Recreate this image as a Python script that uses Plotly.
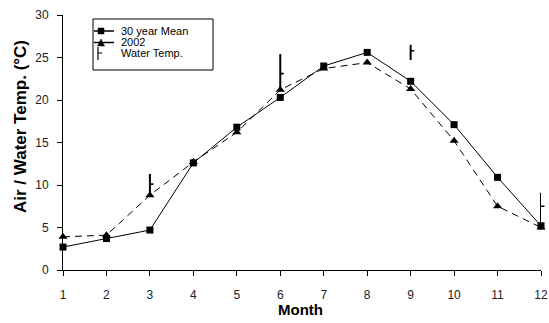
import plotly.graph_objects as go

months = [1, 2, 3, 4, 5, 6, 7, 8, 9, 10, 11, 12]
mean_30yr = [2.7, 3.7, 4.7, 12.6, 16.8, 20.3, 24.0, 25.6, 22.2, 17.1, 10.9, 5.2]
temp_2002 = [3.9, 4.1, 8.8, 12.7, 16.2, 21.2, 23.7, 24.4, 21.3, 15.2, 7.5, 5.0]

water_months = [3, 6, 9, 12]
water_mean = [10.1, 23.1, 25.8, 7.5]
water_min = [8.7, 21.2, 24.7, 4.8]
water_max = [11.3, 25.4, 26.5, 9.1]

tick_labels = [str(m) for m in months]
y_ticks = [0, 5, 10, 15, 20, 25, 30]

FONT = "Liberation Sans, Arial, sans-serif"

fig = go.Figure()

fig.add_trace(go.Scatter(
    x=months, y=mean_30yr, mode="lines+markers", name="30 year Mean",
    line=dict(color="black", width=1),
    marker=dict(symbol="square", size=7, color="black"),
    cliponaxis=False, showlegend=False))

fig.add_trace(go.Scatter(
    x=months, y=temp_2002, mode="lines+markers", name="2002",
    line=dict(color="black", width=1, dash="7px,5px"),
    marker=dict(symbol="triangle-up", size=8, color="black"),
    cliponaxis=False, showlegend=False))

# water temperature: vertical range bar
fig.add_trace(go.Scatter(
    x=water_months, y=water_mean, mode="markers", name="Water Temp.",
    marker=dict(size=2, color="rgba(0,0,0,0)", line=dict(width=0)),
    error_y=dict(type="data", symmetric=False,
                 array=[hi - m for hi, m in zip(water_max, water_mean)],
                 arrayminus=[m - lo for lo, m in zip(water_min, water_mean)],
                 width=0, thickness=2, color="black"),
    cliponaxis=False, showlegend=False))

# plot area in pixels
L, R, T, B = 63, 541, 15, 270


def px(x):
    return (x - L) / (R - L)


def py(y):
    return (B - y) / (B - T)


shapes = []
annotations = []

# water temperature: short tick to the right marking the mean (not clipped)
for m, v in zip(water_months, water_mean):
    annotations.append(dict(x=m, y=v, xref="x", yref="y", text="",
                            showarrow=True, arrowhead=0, arrowwidth=1.6,
                            arrowcolor="black", ax=5, ay=0,
                            standoff=0, startstandoff=0))

# legend box
shapes.append(dict(type="rect", xref="paper", yref="paper",
                   x0=px(93), x1=px(213), y0=py(70), y1=py(19),
                   line=dict(color="black", width=1), fillcolor="white", layer="below"))

legend_rows = [("30 year Mean", 31), ("2002", 42.5), ("Water Temp.", 53)]
for i, (label, yy) in enumerate(legend_rows):
    annotations.append(dict(text=label, xref="paper", yref="paper",
                            x=px(119), y=py(yy), xanchor="left", yanchor="middle",
                            showarrow=False, font=dict(family=FONT, size=11, color="black")))
    if i < 2:
        shapes.append(dict(type="line", xref="paper", yref="paper",
                           x0=px(94), x1=px(114), y0=py(yy), y1=py(yy),
                           line=dict(color="black", width=1.5)))
    if i == 0:
        shapes.append(dict(type="rect", xref="paper", yref="paper",
                           x0=px(98), x1=px(104), y0=py(yy + 3), y1=py(yy - 3),
                           line=dict(color="black", width=0.5), fillcolor="black"))
    elif i == 1:
        shapes.append(dict(type="path", xref="paper", yref="paper",
                           path=f"M {px(97.5)},{py(yy + 3.5)} L {px(104.5)},{py(yy + 3.5)} L {px(101)},{py(yy - 3.5)} Z",
                           line=dict(color="black", width=0.5), fillcolor="black"))
    else:
        shapes.append(dict(type="line", xref="paper", yref="paper",
                           x0=px(98), x1=px(98), y0=py(yy + 7), y1=py(yy - 6),
                           line=dict(color="black", width=1.2)))
        shapes.append(dict(type="line", xref="paper", yref="paper",
                           x0=px(98), x1=px(102), y0=py(yy), y1=py(yy),
                           line=dict(color="black", width=1)))

# axis titles
annotations.append(dict(text="<b>Month</b>", xref="paper", yref="paper",
                        x=px(300), y=py(310), xanchor="center", yanchor="middle",
                        showarrow=False, font=dict(family=FONT, size=15, color="black")))
annotations.append(dict(text="<b>Air / Water Temp. (°C)</b>", xref="paper", yref="paper",
                        x=px(20), y=py(127), xanchor="center", yanchor="middle",
                        textangle=-90, showarrow=False,
                        font=dict(family=FONT, size=17, color="black")))

fig.update_layout(
    width=549, height=323,
    margin=dict(l=L, r=549 - R, t=T, b=323 - B, autoexpand=False),
    paper_bgcolor="white", plot_bgcolor="white",
    font=dict(family=FONT, size=12, color="#222"),
    shapes=shapes, annotations=annotations,
    showlegend=False,
    xaxis=dict(range=[1, 12], tickmode="array", tickvals=months, ticktext=tick_labels,
               automargin=False,
               showgrid=False, zeroline=False, showline=True, linecolor="black", linewidth=1,
               ticks="outside", ticklen=5, tickcolor="black", tickwidth=1,
               ticklabelstandoff=9, tickfont=dict(family=FONT, size=12, color="#222")),
    yaxis=dict(range=[0, 30], tickmode="array", tickvals=y_ticks,
               automargin=False,
               showgrid=False, zeroline=False, showline=True, linecolor="black", linewidth=1,
               ticks="outside", ticklen=5, tickcolor="black", tickwidth=1,
               ticklabelstandoff=6, tickfont=dict(family=FONT, size=12, color="#222")),
)

fig.write_html("out.html")
